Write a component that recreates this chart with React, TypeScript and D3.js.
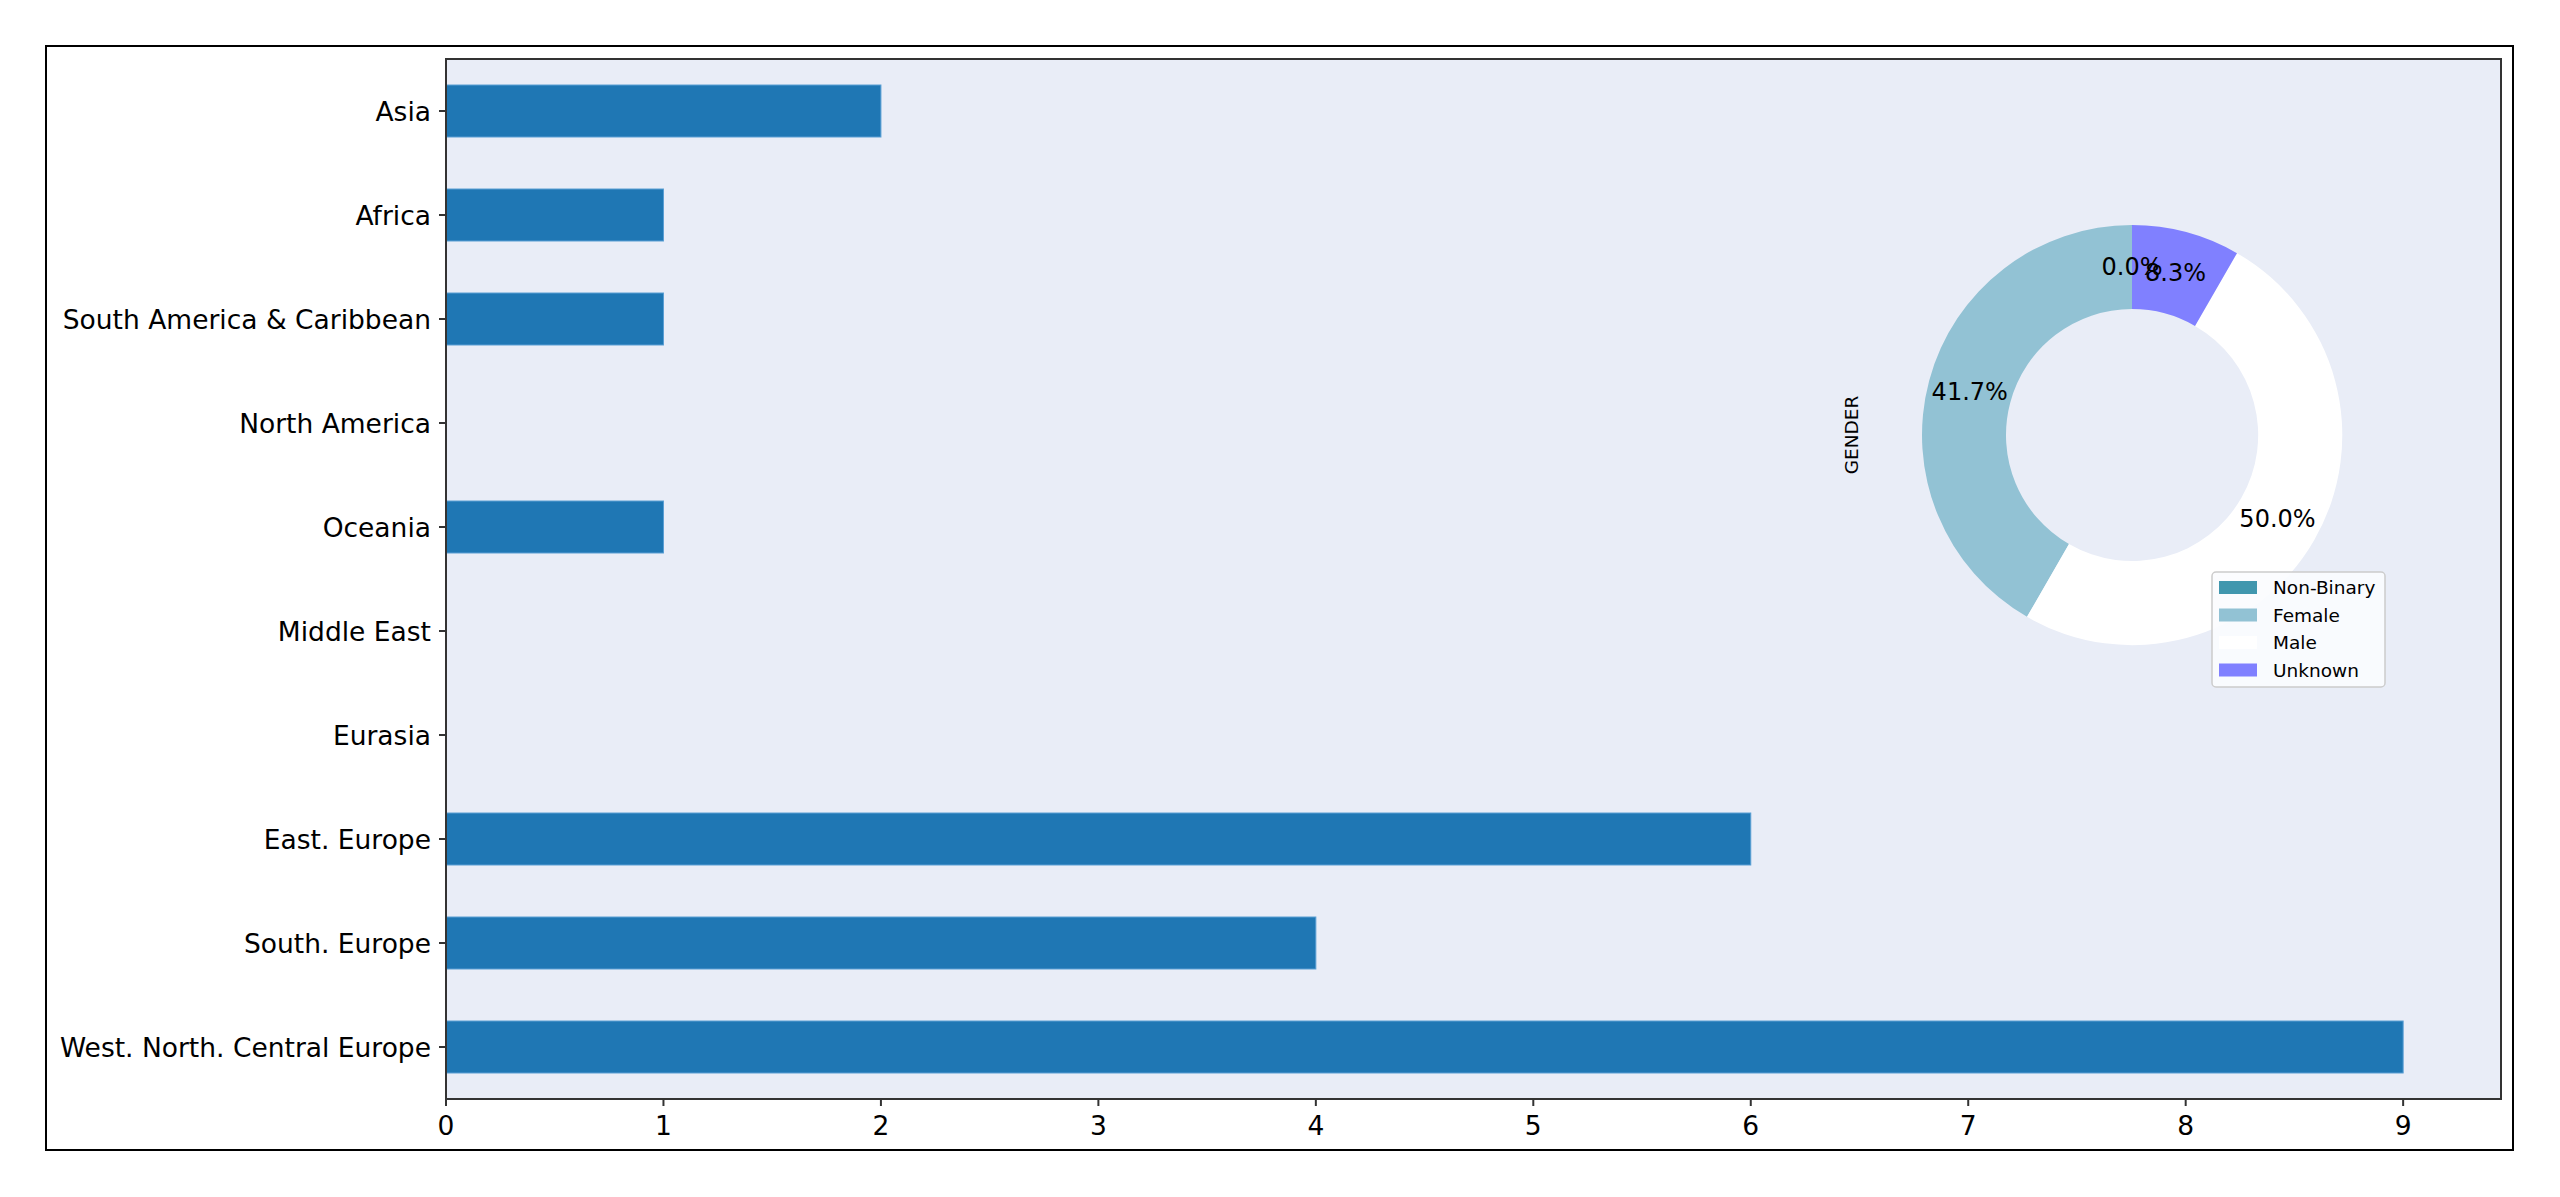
import React from "react";
import * as d3 from "d3";

// Regions listed bottom-to-top (pandas barh order)
const regions = [
  "West. North. Central Europe",
  "South. Europe",
  "East. Europe",
  "Eurasia",
  "Middle East",
  "Oceania",
  "North America",
  "South America & Caribbean",
  "Africa",
  "Asia",
];
const regionCounts = [9, 4, 6, 0, 0, 1, 0, 1, 1, 2];
const xTicks = [0, 1, 2, 3, 4, 5, 6, 7, 8, 9];

const genders = ["Non-Binary", "Female", "Male", "Unknown"];
const genderCounts = [0, 10, 12, 2];
const genderColors = ["#4197ae", "#92c2d4", "#ffffff", "#8080ff"];

const W = 2560;
const H = 1197;
const FONT = "DejaVu Sans, sans-serif";

export default function App() {
  const left = 446, right = 2501, top = 59, bottom = 1099;
  const x = d3.scaleLinear().domain([0, 9.45]).range([left, right]);
  const y = d3.scaleLinear().domain([-0.5, regions.length - 0.5]).range([bottom, top]);
  const barH = y(0) - y(0.5);

  const cx = 2132, cy = 435, R = 210, r0 = R * 0.6;
  const total = d3.sum(genderCounts);
  const pie = d3.pie<number>().sort(null).startAngle(0).endAngle(-2 * Math.PI);
  const arcs = pie(genderCounts);
  const arc = d3.arc<d3.PieArcDatum<number>>().innerRadius(r0).outerRadius(R);
  const labelArc = d3.arc<d3.PieArcDatum<number>>().innerRadius(R * 0.8).outerRadius(R * 0.8);

  const legX = 2212, legY = 572;
  const rowH = 27.5;

  return (
    <svg width={W} height={H} style={{ position: "absolute", left: 0, top: 0, background: "#fff" }} fontFamily={FONT}>
      <rect x={0} y={0} width={W} height={H} fill="#ffffff" />
      <rect x={46} y={46} width={2467} height={1104} fill="none" stroke="#000" strokeWidth={2} />
      <rect x={left} y={top} width={right - left} height={bottom - top} fill="#e9edf7" />
      {regions.map((name, i) =>
        regionCounts[i] > 0 ? (
          <rect
            key={name}
            x={x(0)}
            y={y(i) - barH / 2}
            width={x(regionCounts[i]) - x(0)}
            height={barH}
            fill="#1f77b4"
            stroke="#5a9fd4"
            strokeWidth={1}
          />
        ) : null
      )}
      {/* donut */}
      <g transform={`translate(${cx},${cy})`}>
        {arcs.map((a, i) => (
          <path key={genders[i]} d={arc(a) || ""} fill={genderColors[i]} />
        ))}
        {arcs.map((a, i) => {
          const [lx, ly] = labelArc.centroid(a);
          return (
            <text key={"l" + i} x={lx} y={ly} textAnchor="middle" dominantBaseline="central" fontSize={24} fill="#000">
              {((genderCounts[i] / total) * 100).toFixed(1) + "%"}
            </text>
          );
        })}
      </g>
      <text
        x={1851}
        y={cy}
        transform={`rotate(-90, 1851, ${cy})`}
        textAnchor="middle"
        dominantBaseline="central"
        fontSize={18.5}
        fill="#000"
      >
        GENDER
      </text>
      {/* legend */}
      <rect x={legX} y={legY} width={173} height={115} rx={4} fill="#fbfcfe" fillOpacity={0.9} stroke="#cccccc" strokeWidth={1.5} />
      {genders.map((g, i) => (
        <g key={g}>
          <rect x={legX + 7} y={legY + 9 + i * rowH} width={38} height={13} fill={genderColors[i]} />
          <text x={legX + 61} y={legY + 15.5 + i * rowH} dominantBaseline="central" fontSize={18.5} fill="#000">
            {g}
          </text>
        </g>
      ))}
      {/* axes spines */}
      <rect x={left} y={top} width={right - left} height={bottom - top} fill="none" stroke="#333" strokeWidth={2} />
      {xTicks.map((t) => (
        <g key={t}>
          <line x1={x(t)} x2={x(t)} y1={bottom} y2={bottom + 7} stroke="#333" strokeWidth={2} />
          <text x={x(t)} y={1135} textAnchor="middle" fontSize={26.5} fill="#000">
            {t}
          </text>
        </g>
      ))}
      {regions.map((name, i) => (
        <g key={"t" + name}>
          <line x1={left - 7} x2={left} y1={y(i)} y2={y(i)} stroke="#333" strokeWidth={2} />
          <text x={left - 15} y={y(i)} textAnchor="end" dominantBaseline="central" fontSize={26.5} fill="#000">
            {name}
          </text>
        </g>
      ))}
    </svg>
  );
}
